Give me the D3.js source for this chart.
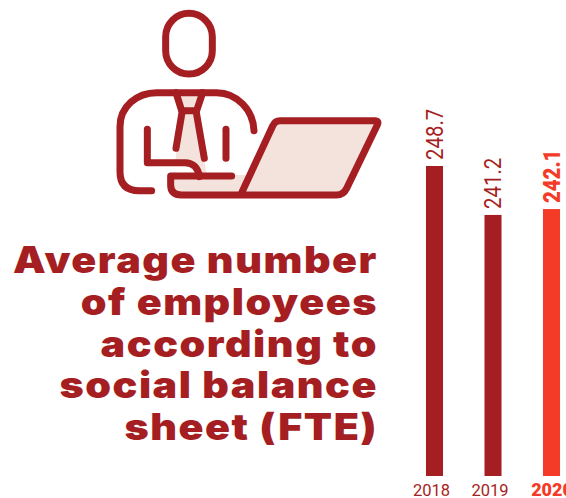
<!DOCTYPE html>
<meta charset="utf-8">
<script src="https://d3js.org/d3.v7.min.js"></script>
<style>
  html, body { margin: 0; padding: 0; background: #fff; overflow: hidden; }
</style>
<div id="my_dataviz"></div>
<script>
var years = ["2018", "2019", "2020"];
var employees = [248.7, 241.2, 242.1];
var titleLines = ["Average number", "of employees", "according to", "social balance", "sheet (FTE)"];

var dark = "#a51e22", bright = "#f43b27", pale = "#f4e3dc";
var W = 566, H = 498;

var svg = d3.select("#my_dataviz").append("svg")
  .attr("width", W).attr("height", H)
  .style("display", "block");

// the person at the laptop, traced at 3x so the numbers match the zoomed picture
var icon = svg.append("g").attr("transform", "translate(100,0) scale(0.3333)");

icon.append("path").attr("fill", pale)
  .attr("d", "M228 278 L308 278 L290 330 L320 525 L440 525 L422 585 L245 585 Q212 585 212 555 L212 528 L298 528 C295 505 280 488 225 488 L245 330 Z");
icon.append("path").attr("fill", pale)
  .attr("d", "M422 585 L518 378 Q525 362 540 362 L825 362 Q838 362 832 375 L740 565 Q730 585 710 585 Z");

var outlines = [
  "M197 110 A70 70 0 0 1 337 110 L337 152 A70 70 0 0 1 197 152 Z",
  "M155 572 L118 572 Q60 572 60 515 L60 380 C60 320 110 278 170 278 L350 278 C410 278 460 330 462 392",
  "M142 388 L142 488 L255 488 C280 488 295 505 298 530",
  "M395 528 L212 528 L212 555 Q212 585 245 585 L710 585 Q730 585 740 565 L832 375 Q838 362 825 362 L540 362 Q525 362 518 378 L422 585",
  "M228 278 L245 332 L290 332 L308 278",
  "M247 332 L228 445",
  "M288 332 L313 475",
  "M378 388 L378 475"
];
icon.selectAll("path.line").data(outlines).enter().append("path")
  .attr("class", "line")
  .attr("d", function(d) { return d; })
  .attr("fill", "none")
  .attr("stroke", dark)
  .attr("stroke-width", 21)
  .attr("stroke-linecap", "round")
  .attr("stroke-linejoin", "round");

// title, stretched a bit since the original face is wider than anything installed
svg.append("g").selectAll("text").data(titleLines).enter().append("text")
  .attr("transform", function(d, i) {
    return "translate(378," + (273 + i * 41.8) + ") scale(1.13,1)";
  })
  .attr("text-anchor", "end")
  .attr("font-family", "Inter")
  .attr("font-weight", 900)
  .attr("font-size", 36.5)
  .attr("letter-spacing", 1.35)
  .attr("fill", dark)
  .text(function(d) { return d; });

// scales
var x = d3.scaleBand().domain(years).range([384.5, 601.5]).padding(0.709);
var y = d3.scaleLinear().domain([201.2, 248.7]).range([476, 166]);

// bars
svg.selectAll("rect.bar").data(employees).enter().append("rect")
  .attr("class", "bar")
  .attr("x", function(d, i) { return x(years[i]); })
  .attr("y", function(d) { return y(d); })
  .attr("width", x.bandwidth())
  .attr("height", function(d) { return y.range()[0] - y(d); })
  .attr("fill", function(d, i) { return years[i] === "2020" ? bright : dark; });

// value labels, rotated
svg.selectAll("text.value").data(employees).enter().append("text")
  .attr("class", "value")
  .attr("transform", function(d, i) {
    return "translate(" + (x(years[i]) + x.bandwidth() - 0.5) + "," + (y(d) - 6) + ") rotate(-90) scale(0.85,1)";
  })
  .attr("font-family", "Roboto")
  .attr("font-size", 24)
  .attr("font-weight", function(d, i) { return years[i] === "2020" ? 900 : 400; })
  .attr("fill", function(d, i) { return years[i] === "2020" ? bright : dark; })
  .text(function(d) { return d.toFixed(1); });

// year axis, the 2020 tick runs off the right edge like the original
var axis = svg.append("g")
  .attr("transform", "translate(0,476)")
  .call(d3.axisBottom(x).tickSize(0).tickPadding(0));
axis.select(".domain").remove();
axis.selectAll("text")
  .attr("x", function(d) { return d === "2020" ? 0.5 : -3; })
  .attr("y", 19.5)
  .attr("dy", 0)
  .attr("font-family", "Roboto")
  .attr("font-size", function(d) { return d === "2020" ? 18 : 16.5; })
  .attr("font-weight", function(d) { return d === "2020" ? 900 : 400; })
  .attr("fill", function(d) { return d === "2020" ? bright : dark; });
</script>
